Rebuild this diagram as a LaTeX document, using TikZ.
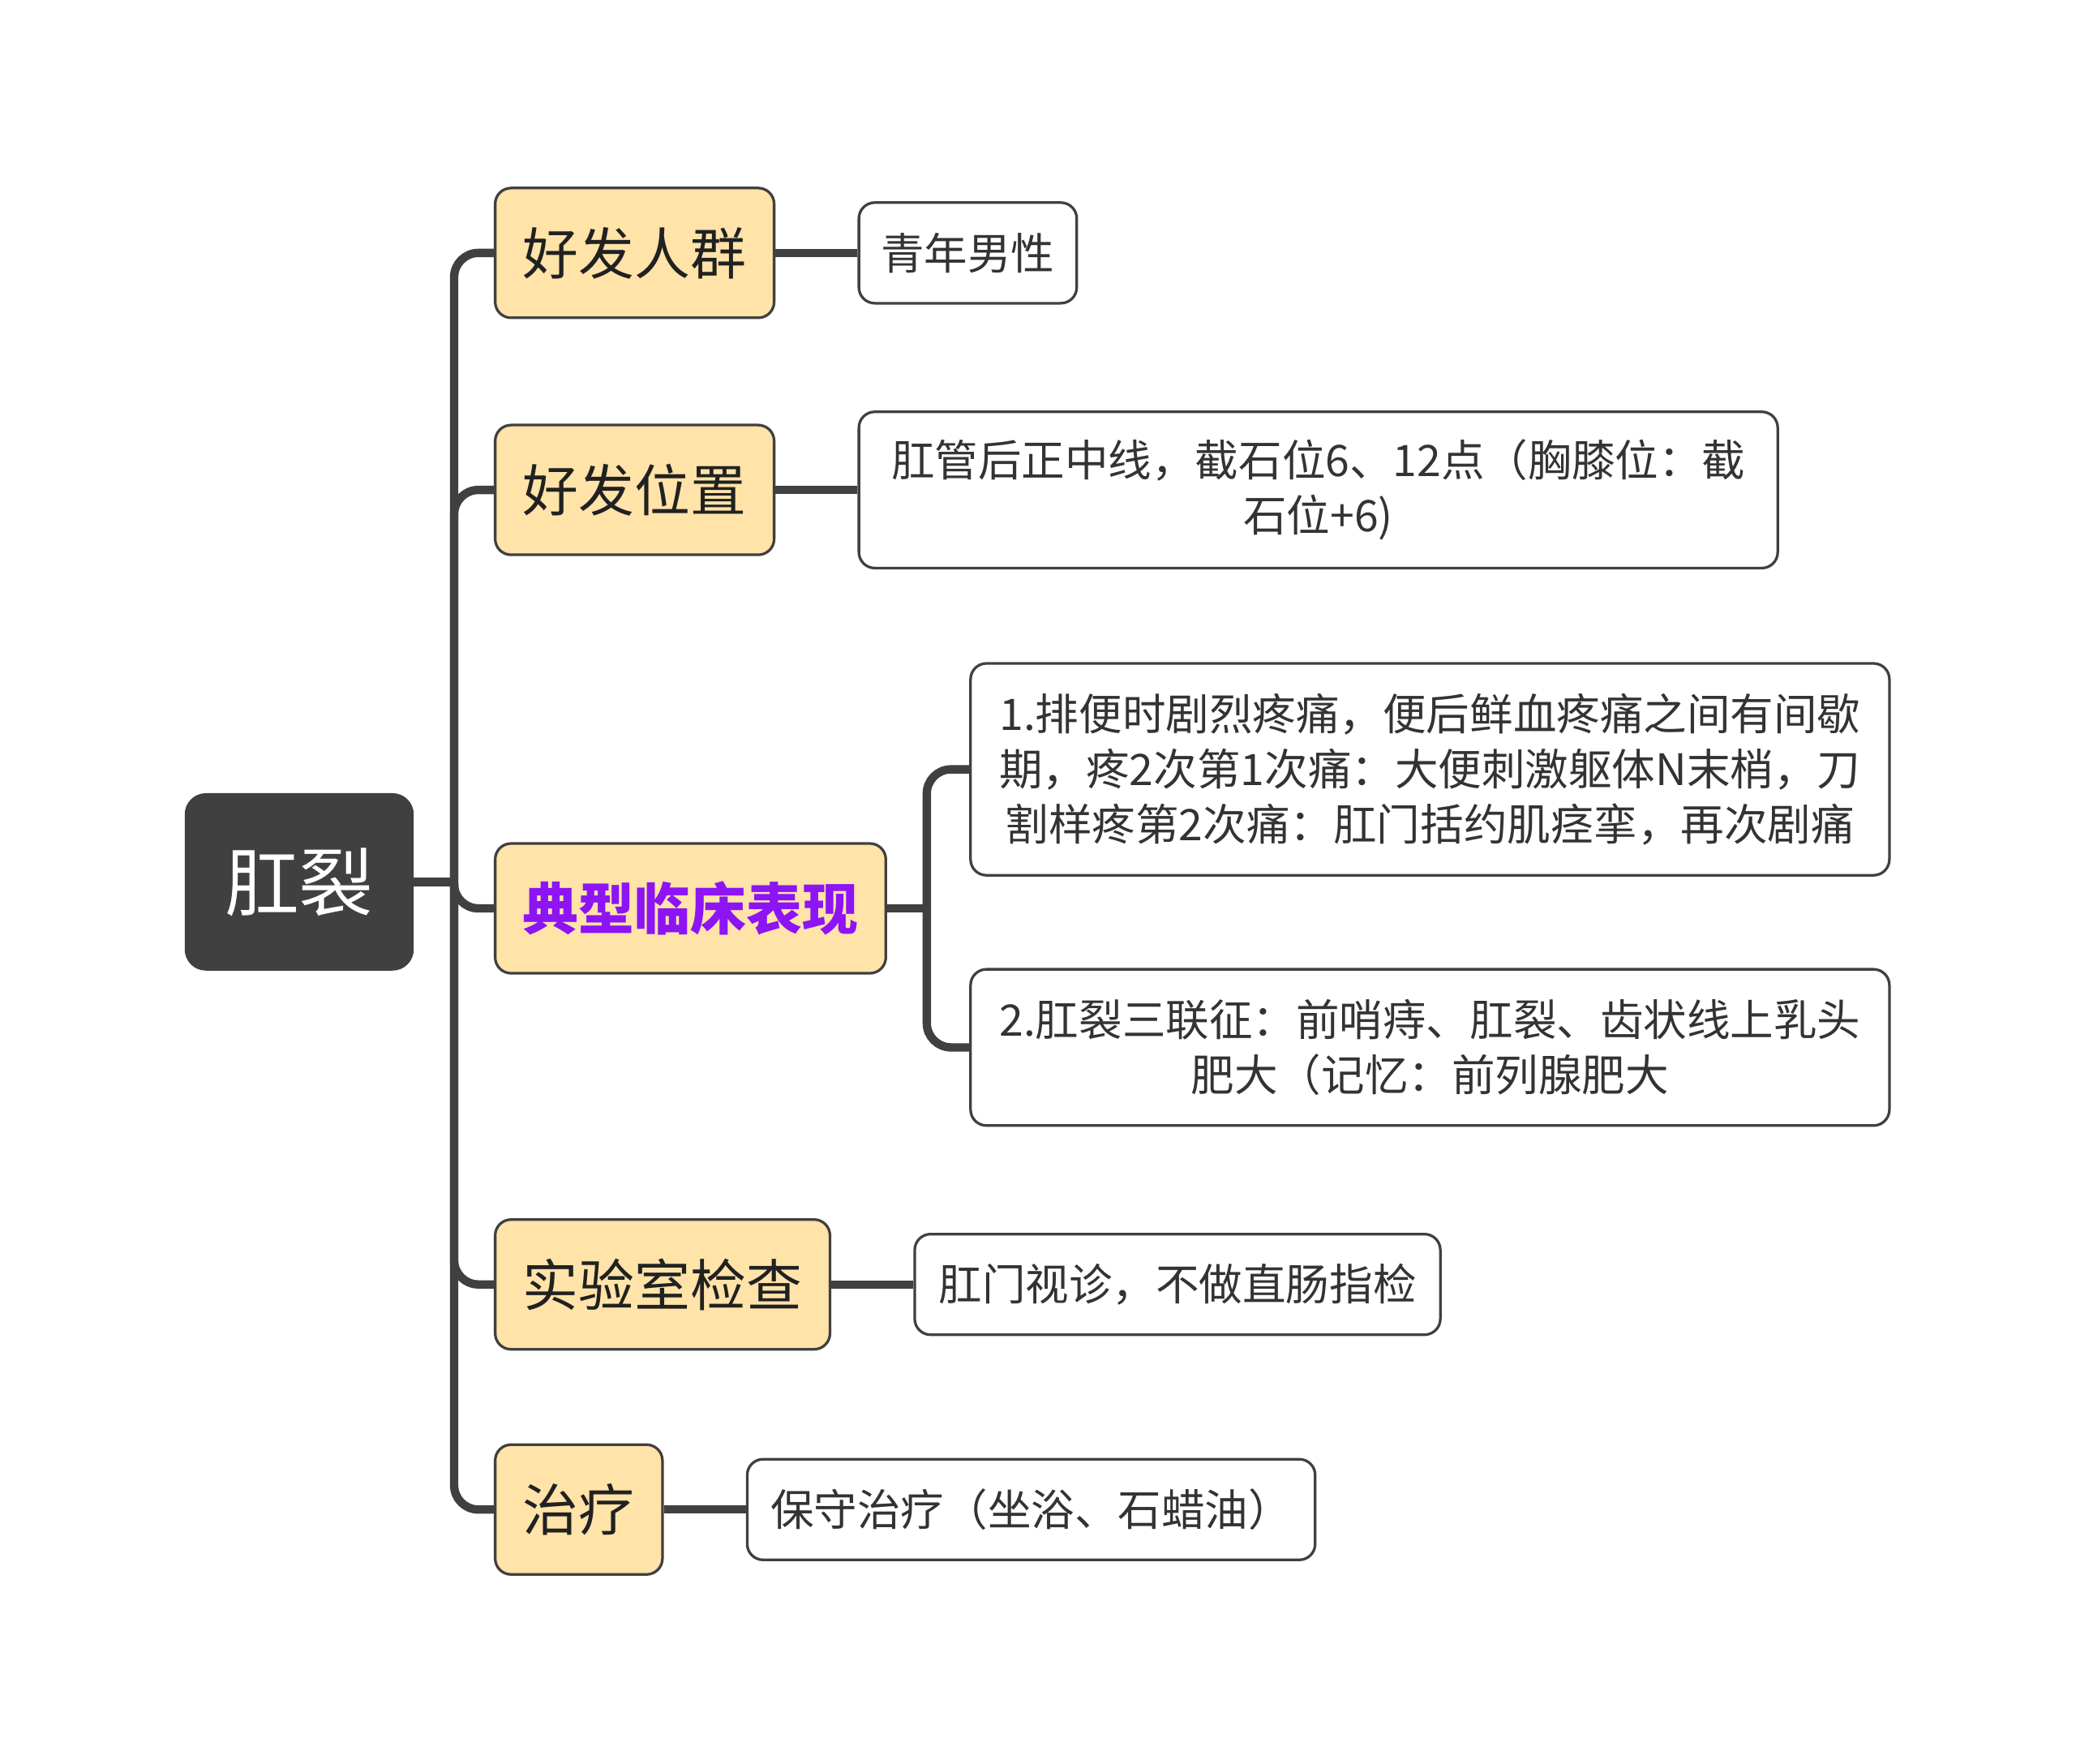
\documentclass[tikz,border=0pt]{standalone}
\usepackage{fontspec}
\setmainfont{Noto Sans CJK SC}
\usetikzlibrary{positioning}
\definecolor{darkgrey}{HTML}{404040}
\definecolor{peach}{HTML}{FFE3A8}
\definecolor{topicpurple}{HTML}{8C14F5}
\begin{document}
\begin{tikzpicture}[x=0.3mm, y=-0.3mm,
    main/.style = {draw=darkgrey, line width=0.6mm, rounded corners=3.6mm},
    topic/.style = {main, fill=peach, text=black!87, anchor=west, font=\fontsize{36}{43}\selectfont, inner xsep=6.3mm, minimum height=29.4mm},
    leaf/.style = {main, fill=white, text=black!80, align=center, font=\fontsize{28}{35.7}\selectfont, inner xsep=5mm, minimum height=22.8mm},
    conn/.style = {draw=darkgrey, line width=1.9mm, rounded corners=5.5mm}]
    \useasboundingbox (0,0) rectangle (1568,1332);
    \node[main, fill=darkgrey, text=white, font=\fontsize{48}{58}\selectfont, minimum width=51.3mm, minimum height=39.6mm, rounded corners=4.5mm] (0) at (226,666) {肛裂};
    \node[topic] (1) at (373,191) {好发人群};
    \node[topic] (2) at (373,370) {好发位置};
    \node[topic, text=topicpurple, font=\fontsize{36}{43}\selectfont\bfseries] (3) at (373,686) {典型临床表现};
    \node[topic] (4) at (373,970) {实验室检查};
    \node[topic] (5) at (373,1140) {治疗};
    \node[leaf] (11) [right=18.6mm of 1] {青年男性};
    \node[leaf, minimum width=208.2mm, minimum height=35.4mm] (21) [right=18.6mm of 2] {肛管后正中线，截石位6、12点（胸膝位：截\\石位+6)};
    \node[leaf, minimum width=208.2mm, minimum height=48mm] (31) [right=18.6mm of 3, yshift=31.5mm] {1.排便时剧烈疼痛，便后鲜血疼痛之间有间歇\\期，疼2次第1次痛：大便刺激躯体N末梢，刀\\割样疼第2次痛：肛门括约肌痉挛，再次剧痛};
    \node[leaf, minimum width=208.2mm, minimum height=35.4mm] (32) [right=18.6mm of 3, yshift=-31.5mm] {2.肛裂三联征：前哨痔、肛裂、齿状线上乳头\\肥大（记忆：前列腺肥大};
    \node[leaf, minimum width=119.1mm] (41) [right=18.6mm of 4] {肛门视诊，不做直肠指检};
    \node[leaf, minimum width=128.7mm] (51) [right=18.6mm of 5] {保守治疗（坐浴、石蜡油）};
    \draw[conn] (0.east) -- (343,666);
    \foreach \n in {1,...,5}
        \draw[conn] (343,666) |- (\n.west);
    \draw[conn] (3.east) -- (700,686);
    \foreach \n in {31,32}
        \draw[conn] (700,686) |- (\n.west);
    \foreach \n in {1,2,4,5}
        \draw[conn] (\n.east) -- (\n1.west);
\end{tikzpicture}
\end{document}
